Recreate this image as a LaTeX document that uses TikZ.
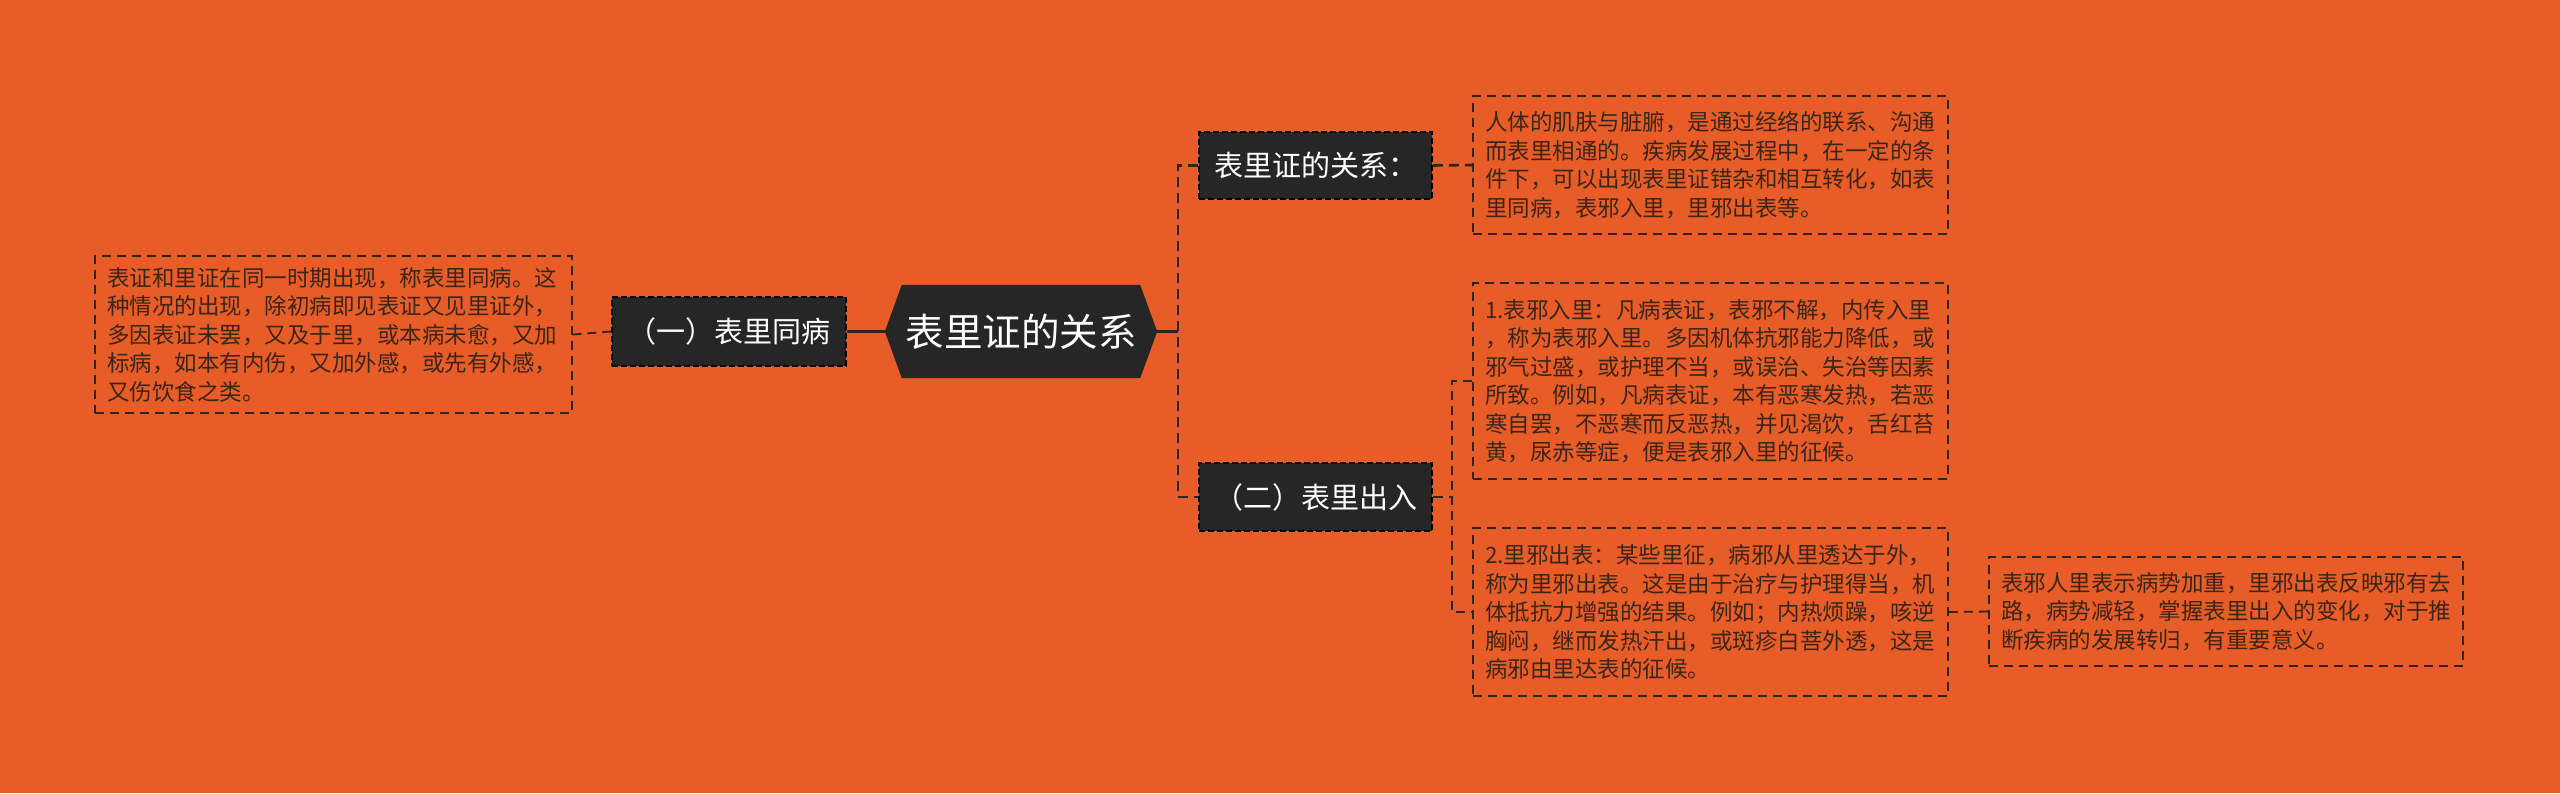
\documentclass[tikz,border=0pt]{standalone}
\usepackage{fontspec}
\setmainfont{Noto Sans CJK SC}
\usetikzlibrary{calc,backgrounds}
\definecolor{bg}{HTML}{E85C27}
\definecolor{dark}{HTML}{262626}
\definecolor{ink}{HTML}{3A2618}
\definecolor{edge}{HTML}{2E2420}
\tikzset{
  textbox/.style={draw=edge, line width=1.8pt, dash pattern=on 9pt off 6pt, text=ink,
    align=left, text width=451pt, inner xsep=12pt, inner ysep=0pt,
    minimum width=475pt, font=\fontsize{22.5}{28.5}\selectfont},
  topic/.style={fill=dark, draw=black, line width=1.5pt, dash pattern=on 6pt off 3pt,
    text=white, font=\fontsize{29}{34}\selectfont, inner sep=0pt,
    minimum width=233pt, minimum height=68pt},
  rootbox/.style={text=white, font=\fontsize{38.5}{44}\selectfont, inner sep=0pt,
    minimum width=272pt, minimum height=93pt},
  conn/.style={draw=edge, line width=2.6pt, dash pattern=on 10pt off 6pt},
  thinconn/.style={draw=edge, line width=1.8pt, dash pattern=on 9pt off 6pt},
  rootconn/.style={draw=edge, line width=3pt},
}
\begin{document}
\begin{tikzpicture}[x=1pt,y=-1pt]
\useasboundingbox (0,0) rectangle (2560,793);

\node[rootbox] (root) at (1021,331.5) {表里证的关系};
\begin{scope}[on background layer]
  \fill[bg] (0,0) rectangle (2560,793);
  \fill[dark] (root.west) -- ($(root.north west)+(17,0)$) -- ($(root.north east)+(-17,0)$)
    -- (root.east) -- ($(root.south east)+(-17,0)$) -- ($(root.south west)+(17,0)$) -- cycle;
\end{scope}

\node[topic, minimum width=234pt, minimum height=69pt] (n0) at (729,331.5) {（一）表里同病};
\node[topic, minimum height=67pt] (n1) at (1315.5,165.5) {表里证的关系：};
\node[topic] (n2) at (1315.5,497) {（二）表里出入};

\node[textbox, minimum width=477pt, text width=453pt, minimum height=157pt] (lbox) at (333.5,334.5) {表证和里证在同一时期出现，称表里同病。这\\种情况的出现，除初病即见表证又见里证外，\\多因表证未罢，又及于里，或本病未愈，又加\\标病，如本有内伤，又加外感，或先有外感，\\又伤饮食之类。};

\node[textbox, minimum height=138pt] (box1) at (1710.5,165) {人体的肌肤与脏腑，是通过经络的联系、沟通\\而表里相通的。疾病发展过程中，在一定的条\\件下，可以出现表里证错杂和相互转化，如表\\里同病，表邪入里，里邪出表等。};

\node[textbox, minimum height=196pt] (box2) at (1710.5,381) {1.表邪入里：凡病表证，表邪不解，内传入里\\，称为表邪入里。多因机体抗邪能力降低，或\\邪气过盛，或护理不当，或误治、失治等因素\\所致。例如，凡病表证，本有恶寒发热，若恶\\寒自罢，不恶寒而反恶热，并见渴饮，舌红苔\\黄，尿赤等症，便是表邪入里的征候。};

\node[textbox, minimum height=168pt] (box3) at (1710.5,612) {2.里邪出表：某些里征，病邪从里透达于外，\\称为里邪出表。这是由于治疗与护理得当，机\\体抵抗力增强的结果。例如；内热烦躁，咳逆\\胸闷，继而发热汗出，或斑疹白菩外透，这是\\病邪由里达表的征候。};

\node[textbox, minimum width=474pt, text width=450pt, minimum height=109pt] (box4) at (2226,611.5) {表邪人里表示病势加重，里邪出表反映邪有去\\路，病势减轻，掌握表里出入的变化，对于推\\断疾病的发展转归，有重要意义。};

\coordinate (tr) at (1178,0);
\coordinate (st) at (1452,0);

\draw[rootconn] (root.west) -- (n0.east);
\draw[thinconn] (n0.west) -- (lbox.east);
\draw[rootconn] (root.east) -- (root.east -| tr);
\draw[conn] (n1.west) -- (n1.west -| tr) -- (n2.west -| tr) -- (n2.west);
\draw[conn] (n1.east) -- (box1.west);
\draw[conn] (n2.east) -- (n2.east -| st);
\draw[thinconn] (box2.west) -- (box2.west -| st) -- (box3.west -| st) -- (box3.west);
\draw[thinconn] (box3.east) -- (box4.west);
\end{tikzpicture}
\end{document}
